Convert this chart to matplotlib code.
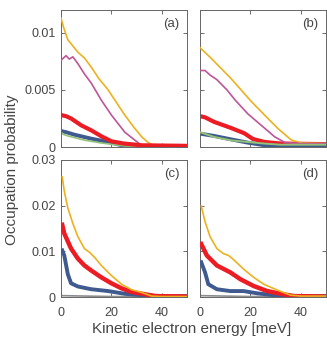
import matplotlib
matplotlib.use("Agg")
import matplotlib.pyplot as plt

plt.rcParams['font.family'] = ['Liberation Sans', 'DejaVu Sans']

# ---------------- data ----------------
# panel (a)
a_yel_x = [0, 1, 2.7, 6.7, 9.3, 12, 15, 18.7, 22, 25.3, 29, 32, 34.5, 36.7, 40, 50]
a_yel_y = [0.0113, 0.0105, 0.0094, 0.0083, 0.0078, 0.0070, 0.0060, 0.0050, 0.0039, 0.0028, 0.0017, 0.0009, 0.0004, 0.00015, 0.0001, 0.0001]
a_mag_x = [0, 2, 3.3, 4.7, 6.7, 9.3, 12, 16, 20, 25.3, 29.3, 32, 36, 50]
a_mag_y = [0.0076, 0.0080, 0.0077, 0.0079, 0.0073, 0.0064, 0.0056, 0.0041, 0.0028, 0.0013, 0.0006, 0.00015, 0.0001, 0.0001]
a_red_x = [0, 2, 4, 8, 12, 16, 20, 25, 32, 50]
a_red_y = [0.0028, 0.0027, 0.0025, 0.0019, 0.00146, 0.00094, 0.0005, 0.0003, 0.00015, 0.0001]
a_blu_x = [0, 2, 5.3, 12, 18.7, 25, 32, 50]
a_blu_y = [0.0014, 0.0013, 0.00108, 0.00073, 0.00044, 0.0001, 0.00005, 0.00005]
a_grn_x = [0, 1, 2.7, 9.3, 16, 25, 32, 50]
a_grn_y = [0.0013, 0.0011, 0.00097, 0.0006, 0.00035, 0.0001, 0.00003, 0.00003]

# panel (b)
b_yel_x = [0, 4.3, 8.3, 12.3, 16.3, 20.3, 25.6, 31, 36.3, 40.4, 50]
b_yel_y = [0.0087, 0.0078, 0.0069, 0.0060, 0.0050, 0.0040, 0.0028, 0.0016, 0.0006, 0.00035, 0.0003]
b_mag_x = [0, 2, 4, 6.7, 10.7, 14, 19, 24.3, 29.6, 33.6, 40, 50]
b_mag_y = [0.0067, 0.0067, 0.0063, 0.0059, 0.0050, 0.0041, 0.0029, 0.0019, 0.0009, 0.0004, 0.0003, 0.0003]
b_red_x = [0, 2, 5.6, 12.3, 17.6, 21, 25.6, 32, 50]
b_red_y = [0.0027, 0.0026, 0.0022, 0.00167, 0.0012, 0.0007, 0.00044, 0.0003, 0.00025]
b_blu_x = [0, 5.6, 12.3, 19, 25.6, 32, 50]
b_blu_y = [0.00117, 0.00097, 0.00067, 0.00038, 0.00015, 0.0001, 0.0001]
b_grn_x = [0, 5.6, 12.3, 19, 25.6, 32, 50]
b_grn_y = [0.0013, 0.00088, 0.00058, 0.00044, 0.0003, 0.0002, 0.0002]

# panel (c)
c_yel_x = [0.5, 1.3, 2.7, 4.7, 6.7, 9.3, 11.3, 13.3, 16, 20, 24, 28, 32, 36, 40, 50]
c_yel_y = [0.0263, 0.0232, 0.0195, 0.0161, 0.0132, 0.0106, 0.0098, 0.0087, 0.0069, 0.0047, 0.0028, 0.0016, 0.0010, 0.0002, 0.0001, 0.0001]
c_red_x = [0.5, 1.3, 4, 6.7, 9.3, 12, 16, 20, 24, 28, 33.3, 37.3, 50]
c_red_y = [0.0158, 0.0139, 0.0106, 0.0084, 0.0069, 0.0058, 0.0043, 0.0030, 0.0019, 0.0011, 0.0006, 0.0002, 0.0001]
c_blu_x = [0.5, 1.3, 2.7, 4, 6.7, 12, 18.7, 25.3, 32, 40, 50]
c_blu_y = [0.0102, 0.0091, 0.0050, 0.0030, 0.0023, 0.0017, 0.0013, 0.0007, 0.0004, 0.0002, 0.0002]
c_gry_x = [0, 10, 20, 50]
c_gry_y = [0.0003, 0.0002, 0.0001, 0.0001]

# panel (d)
d_yel_x = [0.5, 2, 4, 6.7, 9.3, 11.3, 13.3, 17.3, 21.3, 25.3, 30.7, 36, 40, 50]
d_yel_y = [0.0199, 0.0165, 0.0132, 0.0106, 0.0095, 0.0091, 0.0082, 0.0061, 0.0043, 0.0028, 0.0015, 0.0004, 0.0002, 0.0002]
d_red_x = [0.5, 2.7, 6.7, 12, 16, 21.3, 26.7, 32, 37.3, 50]
d_red_y = [0.0116, 0.0091, 0.0069, 0.0054, 0.0039, 0.0024, 0.0013, 0.0007, 0.0002, 0.0001]
d_blu_x = [0.5, 2, 3.3, 6.7, 12, 17.3, 22.7, 29.3, 38.7, 50]
d_blu_y = [0.0076, 0.0054, 0.0028, 0.0017, 0.0013, 0.0013, 0.0008, 0.0004, 0.0002, 0.0002]
d_gry_x = [0, 10, 20, 50]
d_gry_y = [0.0003, 0.0002, 0.0001, 0.0001]

YEL = '#EDB120'
MAG = '#BE5598'
RED = '#EC1C24'
BLU = '#3E5A8E'
GRN = '#94C27A'
GRY = '#8C8C8C'

TEXT = '#454545'

###############base setting################
fig = plt.figure(figsize=(3.27, 3.39), dpi=100)
W, H = 327.0, 339.0


def px_axes(left, top, right, bottom):
    return fig.add_axes([left / W, 1 - bottom / H, (right - left) / W, (bottom - top) / H])


ax_a = px_axes(61, 10, 187, 147)
ax_b = px_axes(200, 10, 326, 147)
ax_c = px_axes(61, 160, 187, 297)
ax_d = px_axes(200, 160, 326, 297)

###############draw lines################
ax_a.plot(a_yel_x, a_yel_y, color=YEL, lw=1.2, zorder=3)
ax_a.plot(a_mag_x, a_mag_y, color=MAG, lw=1.2, zorder=3)
ax_a.plot(a_blu_x, a_blu_y, color=BLU, lw=2.8, zorder=2)
ax_a.plot(a_grn_x, a_grn_y, color=GRN, lw=1.2, zorder=2)
ax_a.plot(a_red_x, a_red_y, color=RED, lw=3.0, zorder=4)

ax_b.plot(b_yel_x, b_yel_y, color=YEL, lw=1.2, zorder=3)
ax_b.plot(b_mag_x, b_mag_y, color=MAG, lw=1.2, zorder=3)
ax_b.plot(b_red_x, b_red_y, color=RED, lw=3.0, zorder=2)
ax_b.plot(b_blu_x, b_blu_y, color=BLU, lw=2.8, zorder=2)
ax_b.plot(b_grn_x, b_grn_y, color=GRN, lw=1.4, zorder=4)

ax_c.plot(c_gry_x, c_gry_y, color=GRY, lw=1.2, zorder=2)
ax_c.plot(c_blu_x, c_blu_y, color=BLU, lw=2.8, zorder=3)
ax_c.plot(c_red_x, c_red_y, color=RED, lw=3.2, zorder=3)
ax_c.plot(c_yel_x, c_yel_y, color=YEL, lw=1.2, zorder=4)

ax_d.plot(d_gry_x, d_gry_y, color=GRY, lw=1.2, zorder=2)
ax_d.plot(d_blu_x, d_blu_y, color=BLU, lw=2.8, zorder=3)
ax_d.plot(d_red_x, d_red_y, color=RED, lw=3.2, zorder=3)
ax_d.plot(d_yel_x, d_yel_y, color=YEL, lw=1.2, zorder=4)

##############axis setting###############
for ax, lab in zip([ax_a, ax_b, ax_c, ax_d], ['(a)', '(b)', '(c)', '(d)']):
    ax.set_xlim(0, 50)
    ax.set_xticks([0, 20, 40])
    ax.tick_params(direction='in', top=True, right=True, length=3, width=0.6,
                   labelsize=9, colors='#555555', labelcolor=TEXT)
    ax.tick_params(axis='x', pad=7)
    ax.tick_params(axis='y', pad=4)
    for s in ax.spines.values():
        s.set_color('#666666')
        s.set_linewidth(0.7)
    ax.text(0.94, 0.94, lab, transform=ax.transAxes, ha='right', va='top',
            fontsize=9.5, color=TEXT)

for ax in [ax_a, ax_b]:
    ax.set_ylim(0, 0.012)
    ax.set_yticks([0, 0.005, 0.01])
    ax.set_yticklabels(['0', '0.005', '0.01'])
    ax.set_xticklabels([])

for ax in [ax_c, ax_d]:
    ax.set_ylim(0, 0.03)
    ax.set_yticks([0, 0.01, 0.02, 0.03])
    ax.set_yticklabels(['0', '0.01', '0.02', '0.03'])
    ax.set_xticklabels(['0', '20', '40'])

ax_b.set_yticklabels([])
ax_d.set_yticklabels([])

fig.text(12 / W, 0.5, 'Occupation probability', rotation=90, ha='center', va='center',
         fontsize=11, color=TEXT)
fig.text(192 / W, 1 - 329 / H, 'Kinetic electron energy [meV]', ha='center', va='center',
         fontsize=11, color=TEXT)

plt.savefig('out.png', dpi=100)
